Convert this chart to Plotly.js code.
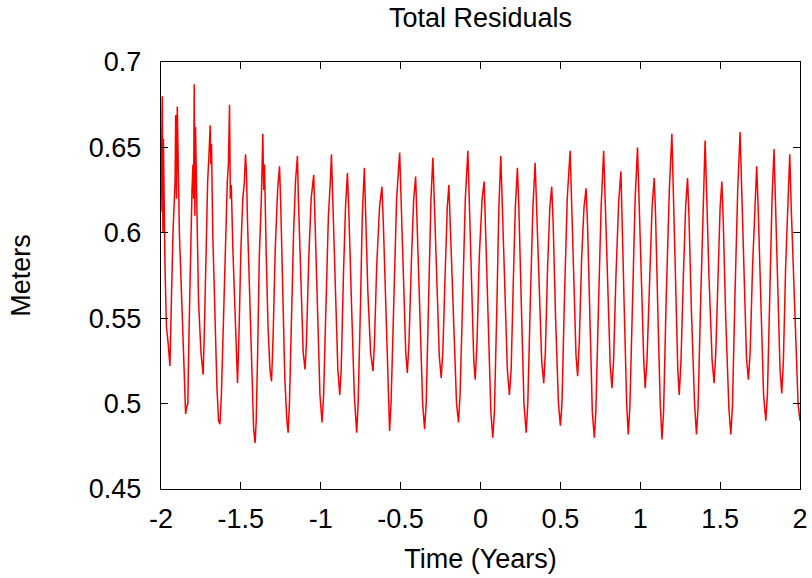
<!DOCTYPE html>
<html>
<head>
<meta charset="utf-8">
<script src="https://cdn.plot.ly/plotly-3.0.1.min.js"></script>
<style>html,body{margin:0;padding:0;background:#fff;}#chart{width:812px;height:578px;}</style>
</head>
<body>
<div id="chart"></div>
<script>
// Time in years (x) and total residual in meters (y)
const timeYears = [
-2.000,-1.992,-1.988,-1.985,-1.975,-1.966,-1.955,-1.944,-1.935,-1.925,-1.912,-1.908,-1.903,-1.898,-1.892,-1.885,-1.870,-1.855,-1.846,-1.839,
-1.832,-1.825,-1.815,-1.806,-1.800,-1.796,-1.792,-1.788,-1.784,-1.775,-1.765,-1.750,-1.742,-1.736,-1.728,-1.718,-1.708,-1.700,-1.692,-1.688,
-1.684,-1.676,-1.665,-1.650,-1.640,-1.631,-1.622,-1.610,-1.598,-1.585,-1.578,-1.571,-1.566,-1.560,-1.550,-1.535,-1.528,-1.521,-1.512,-1.500,
-1.488,-1.478,-1.471,-1.465,-1.458,-1.445,-1.430,-1.420,-1.411,-1.404,-1.395,-1.385,-1.372,-1.3625,-1.357,-1.352,-1.342,-1.330,-1.318,-1.308,
-1.298,-1.285,-1.270,-1.258,-1.250,-1.240,-1.225,-1.212,-1.204,-1.196,-1.185,-1.170,-1.158,-1.146,-1.140,-1.128,-1.110,-1.098,-1.090,-1.075,
-1.060,-1.044,-1.036,-1.022,-1.005,-0.992,-0.982,-0.968,-0.952,-0.940,-0.933,-0.925,-0.910,-0.893,-0.881,-0.872,-0.858,-0.845,-0.833,-0.825,
-0.808,-0.790,-0.775,-0.766,-0.752,-0.740,-0.727,-0.720,-0.705,-0.688,-0.673,-0.664,-0.650,-0.632,-0.617,-0.608,-0.592,-0.578,-0.569,-0.560,
-0.545,-0.525,-0.506,-0.498,-0.482,-0.468,-0.458,-0.448,-0.432,-0.418,-0.406,-0.398,-0.382,-0.362,-0.350,-0.340,-0.325,-0.310,-0.298,-0.290,
-0.275,-0.258,-0.246,-0.236,-0.220,-0.208,-0.198,-0.190,-0.172,-0.150,-0.1375,-0.128,-0.112,-0.095,-0.079,-0.070,-0.055,-0.042,-0.033,-0.022,
-0.008,0.010,0.023,0.030,0.045,0.065,0.077,0.087,0.102,0.115,0.127,0.135,0.150,0.168,0.181,0.192,0.205,0.218,0.231,0.240,
0.255,0.272,0.286,0.296,0.312,0.328,0.342,0.350,0.365,0.383,0.396,0.406,0.420,0.434,0.446,0.455,0.470,0.488,0.500,0.510,
0.525,0.543,0.561,0.570,0.585,0.598,0.608,0.618,0.633,0.648,0.661,0.670,0.685,0.700,0.7125,0.722,0.738,0.755,0.771,0.780,
0.795,0.812,0.823,0.833,0.848,0.865,0.879,0.887,0.900,0.915,0.925,0.935,0.950,0.968,0.983,0.992,1.008,1.022,1.031,1.042,
1.058,1.074,1.0875,1.096,1.110,1.125,1.136,1.146,1.162,1.182,1.198,1.206,1.220,1.235,1.244,1.255,1.270,1.284,1.296,1.305,
1.320,1.340,1.352,1.362,1.378,1.393,1.406,1.415,1.430,1.450,1.4625,1.473,1.488,1.500,1.511,1.520,1.535,1.555,1.567,1.577,
1.592,1.610,1.625,1.633,1.648,1.665,1.677,1.688,1.703,1.718,1.729,1.738,1.752,1.772,1.786,1.796,1.810,1.825,1.8375,1.846,
1.860,1.875,1.886,1.896,1.910,1.925,1.936,1.945,1.960,1.975,1.988,2.000
];
const residualMeters = [
0.612,0.680,0.600,0.655,0.580,0.545,0.535,0.522,0.560,0.600,0.630,0.669,0.620,0.674,0.640,0.600,0.560,0.510,0.494,0.498,
0.500,0.540,0.590,0.625,0.640,0.620,0.687,0.610,0.662,0.600,0.560,0.530,0.520,0.517,0.545,0.600,0.630,0.645,0.663,0.640,
0.652,0.600,0.560,0.510,0.490,0.488,0.505,0.545,0.600,0.630,0.640,0.675,0.620,0.628,0.590,0.545,0.520,0.512,0.540,0.590,
0.620,0.630,0.646,0.635,0.605,0.560,0.510,0.485,0.477,0.490,0.530,0.585,0.620,0.658,0.625,0.640,0.590,0.545,0.520,0.513,
0.540,0.590,0.625,0.639,0.615,0.570,0.515,0.490,0.483,0.500,0.545,0.600,0.630,0.645,0.620,0.580,0.530,0.520,0.535,0.585,
0.620,0.634,0.610,0.560,0.505,0.489,0.505,0.555,0.610,0.630,0.646,0.620,0.570,0.520,0.505,0.520,0.575,0.615,0.635,0.615,
0.560,0.505,0.483,0.500,0.555,0.610,0.638,0.615,0.565,0.530,0.519,0.535,0.580,0.615,0.627,0.605,0.550,0.500,0.484,0.500,
0.555,0.620,0.647,0.620,0.570,0.530,0.518,0.535,0.585,0.620,0.633,0.610,0.560,0.500,0.485,0.500,0.560,0.620,0.644,0.620,
0.575,0.528,0.515,0.530,0.580,0.615,0.628,0.605,0.550,0.500,0.489,0.505,0.560,0.620,0.648,0.620,0.570,0.525,0.514,0.535,
0.585,0.620,0.630,0.605,0.550,0.495,0.480,0.495,0.555,0.615,0.645,0.620,0.575,0.520,0.505,0.520,0.570,0.615,0.638,0.615,
0.560,0.500,0.483,0.500,0.560,0.615,0.641,0.620,0.570,0.525,0.512,0.530,0.580,0.615,0.627,0.605,0.550,0.500,0.487,0.500,
0.560,0.620,0.648,0.620,0.570,0.528,0.516,0.535,0.585,0.615,0.626,0.605,0.550,0.495,0.480,0.495,0.555,0.615,0.648,0.620,
0.570,0.522,0.509,0.525,0.575,0.618,0.636,0.610,0.555,0.500,0.482,0.498,0.555,0.620,0.650,0.625,0.570,0.525,0.509,0.525,
0.575,0.615,0.632,0.610,0.555,0.500,0.479,0.495,0.560,0.625,0.658,0.630,0.575,0.520,0.505,0.525,0.575,0.615,0.632,0.610,
0.555,0.500,0.482,0.498,0.560,0.620,0.654,0.625,0.575,0.525,0.512,0.530,0.580,0.615,0.630,0.605,0.550,0.497,0.482,0.498,
0.560,0.625,0.659,0.630,0.575,0.527,0.514,0.530,0.580,0.620,0.639,0.615,0.565,0.505,0.490,0.505,0.560,0.620,0.649,0.620,
0.565,0.520,0.506,0.525,0.580,0.625,0.646,0.615,0.570,0.530,0.500,0.490
];
const xTickVals = [-2,-1.5,-1,-0.5,0,0.5,1,1.5,2];
const xTickText = ['-2','-1.5','-1','-0.5','0','0.5','1','1.5','2'];
const yTickVals = [0.45,0.5,0.55,0.6,0.65,0.7];
const yTickText = ['0.45','0.5','0.55','0.6','0.65','0.7'];

const FS = 27;
const trace = {
  x: timeYears, y: residualMeters, type: 'scatter', mode: 'lines',
  line: {color: '#ff0000', width: 1.5}, hoverinfo: 'skip', showlegend: false
};
const axisCommon = {
  showline: true, linecolor: '#000', linewidth: 1.2, mirror: 'ticks',
  ticks: 'inside', ticklen: 7, tickwidth: 1, tickcolor: '#000',
  showgrid: false, zeroline: false, fixedrange: true,
  tickfont: {size: FS, color: '#000'}
};
const layout = {
  width: 812, height: 578,
  margin: {l: 161, r: 12, t: 62, b: 89, pad: 0},
  paper_bgcolor: '#fff', plot_bgcolor: '#fff',
  font: {family: '"Liberation Sans", Arial, sans-serif', size: FS, color: '#000'},
  title: {text: 'Total Residuals', x: 0.5, xref: 'paper', xanchor: 'center',
          y: 1 - 18/578, yref: 'container', yanchor: 'middle', font: {size: FS}},
  xaxis: Object.assign({}, axisCommon, {
    range: [-2, 2], tickmode: 'array', tickvals: xTickVals, ticktext: xTickText,
    ticklabelstandoff: 5,
    title: {text: 'Time (Years)', standoff: 16, font: {size: FS}}
  }),
  yaxis: Object.assign({}, axisCommon, {
    range: [0.45, 0.7], tickmode: 'array', tickvals: yTickVals, ticktext: yTickText,
    ticklabelstandoff: 13,
    title: {text: 'Meters', standoff: 50, font: {size: FS}}
  })
};
Plotly.newPlot('chart', [trace], layout, {staticPlot: true, displayModeBar: false});
</script>
</body>
</html>
